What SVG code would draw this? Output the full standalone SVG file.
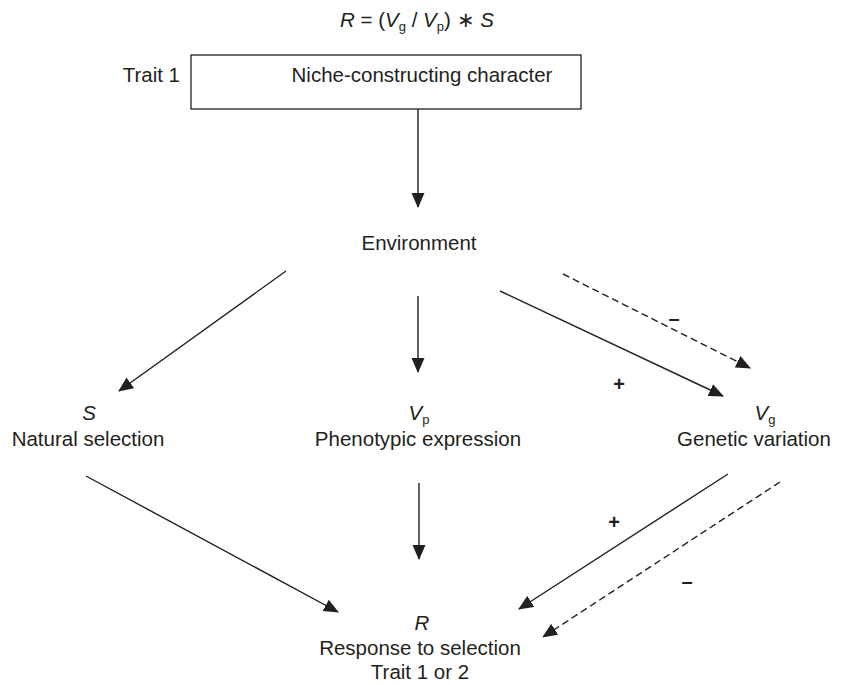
<svg xmlns="http://www.w3.org/2000/svg" width="845" height="685" viewBox="0 0 845 685">
<style>
text{font-family:"Liberation Sans",Arial,sans-serif;font-size:20.5px;fill:#231f20}
.it{font-style:italic}
.c{text-anchor:middle}
.sub{font-size:13px}
.sign{font-weight:bold;font-size:20px;text-anchor:middle}
.ln{stroke:#231f20;stroke-width:1.4;fill:none;marker-end:url(#ah)}
.dash{stroke-dasharray:7 4}
</style>
<defs>
<marker id="ah" markerUnits="userSpaceOnUse" viewBox="0 0 15 14" markerWidth="15" markerHeight="14" refX="14" refY="7" orient="auto">
<path d="M0,0.5 L15,7 L0,13.5 Z" fill="#231f20"/>
</marker>
</defs>
<rect width="845" height="685" fill="#fff"/>
<g id="formula">
<text x="417" y="27" class="c"><tspan class="it">R</tspan> = (<tspan class="it">V</tspan><tspan class="sub" dy="4">g</tspan><tspan dy="-4"> / </tspan><tspan class="it">V</tspan><tspan class="sub" dy="4">p</tspan><tspan dy="-4">) ∗ </tspan><tspan class="it">S</tspan></text>
</g>
<g id="trait1">
<text x="180" y="82" text-anchor="end">Trait 1</text>
<rect x="191" y="55" width="390" height="54" fill="none" stroke="#231f20" stroke-width="1.3"/>
<text x="422" y="82" class="c">Niche-constructing character</text>
</g>
<g id="environment"><text x="419" y="250" class="c">Environment</text></g>
<g id="selection">
<text x="89" y="420" class="c it">S</text>
<text x="88" y="446" class="c">Natural selection</text>
</g>
<g id="phenotypic">
<text x="419" y="420" class="c"><tspan class="it">V</tspan><tspan class="sub" dy="4">p</tspan></text>
<text x="418" y="446" class="c">Phenotypic expression</text>
</g>
<g id="genetic">
<text x="765" y="420" class="c"><tspan class="it">V</tspan><tspan class="sub" dy="4">g</tspan></text>
<text x="754" y="446" class="c">Genetic variation</text>
</g>
<g id="response">
<text x="422" y="630" class="c it">R</text>
<text x="420" y="655" class="c">Response to selection</text>
<text x="420" y="679" class="c">Trait 1 or 2</text>
</g>
<g id="connectors">
<line class="ln" x1="418" y1="109" x2="418" y2="207"/>
<line class="ln" x1="286" y1="271" x2="119" y2="391"/>
<line class="ln" x1="418" y1="296" x2="418" y2="372"/>
<line class="ln" x1="500" y1="291" x2="723" y2="396"/>
<line class="ln dash" x1="563" y1="274" x2="750" y2="368"/>
<line class="ln" x1="86" y1="476" x2="338" y2="612"/>
<line class="ln" x1="419" y1="483" x2="419" y2="559"/>
<line class="ln" x1="728" y1="474" x2="519" y2="609"/>
<line class="ln dash" x1="780" y1="482" x2="543" y2="637"/>
<text class="sign" x="619" y="391">+</text>
<text class="sign" x="674" y="325">–</text>
<text class="sign" x="614" y="529">+</text>
<text class="sign" x="687" y="588">–</text>
</g>
</svg>
